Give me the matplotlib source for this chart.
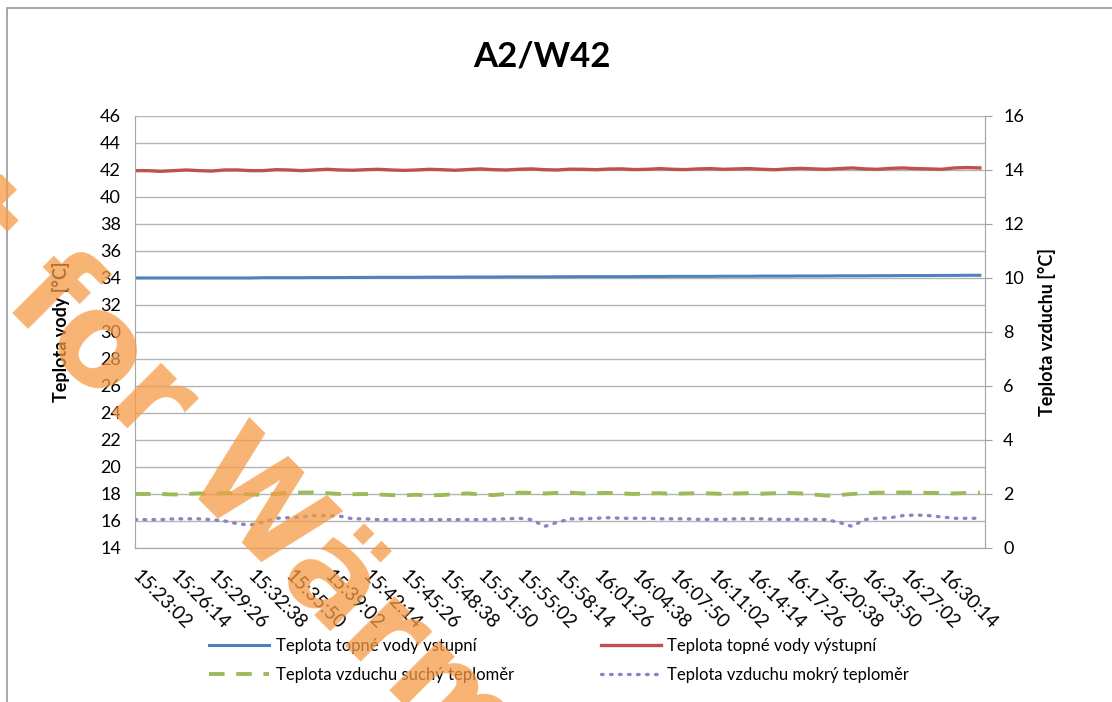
import numpy as np
import matplotlib.pyplot as plt
from matplotlib.patches import Rectangle

plt.rcParams['font.family'] = ['Lato', 'DejaVu Sans']

# tick labels on the time axis (every 3rd sample, 192 s apart)
time_labels = ['15:23:02', '15:26:14', '15:29:26', '15:32:38', '15:35:50', '15:39:02',
               '15:42:14', '15:45:26', '15:48:38', '15:51:50', '15:55:02', '15:58:14',
               '16:01:26', '16:04:38', '16:07:50', '16:11:02', '16:14:14', '16:17:26',
               '16:20:38', '16:23:50', '16:27:02', '16:30:14']

# water temperatures [°C], left axis
voda_vstup = [34.0, 34.0, 34.0, 34.0, 34.0, 34.0, 34.0, 34.0, 34.0, 34.0,
              34.02, 34.02, 34.02, 34.02, 34.03, 34.03, 34.03, 34.04, 34.04, 34.05,
              34.05, 34.05, 34.05, 34.06, 34.06, 34.06, 34.07, 34.07, 34.07, 34.08,
              34.08, 34.08, 34.08, 34.09, 34.09, 34.1, 34.1, 34.1, 34.1, 34.1,
              34.11, 34.11, 34.12, 34.12, 34.12, 34.12, 34.13, 34.13, 34.13, 34.14,
              34.14, 34.14, 34.15, 34.15, 34.15, 34.16, 34.16, 34.16, 34.17, 34.17,
              34.18, 34.18, 34.18, 34.19, 34.19, 34.2, 34.2]
voda_vystup = [41.95, 41.95, 41.9, 41.95, 42.0, 41.95, 41.92, 42.0, 42.0, 41.95,
               41.95, 42.02, 42.0, 41.95, 42.0, 42.05, 42.0, 41.98, 42.02, 42.05,
               42.0, 41.97, 42.0, 42.05, 42.02, 41.98, 42.03, 42.08, 42.02, 42.0,
               42.05, 42.08, 42.02, 42.0, 42.06, 42.05, 42.02, 42.07, 42.08, 42.03,
               42.05, 42.1, 42.05, 42.03, 42.08, 42.1, 42.05, 42.08, 42.1, 42.05,
               42.02, 42.08, 42.12, 42.08, 42.05, 42.1, 42.15, 42.08, 42.05, 42.12,
               42.15, 42.1, 42.08, 42.05, 42.15, 42.18, 42.15]

# air temperatures [°C], right axis
vzduch_suchy = [2.0, 2.0, 2.0, 1.98, 2.0, 2.02, 2.0, 2.03, 2.02, 1.98,
                1.97, 2.0, 2.05, 2.05, 2.06, 2.03, 2.0, 1.99, 2.0, 1.98,
                1.96, 1.95, 1.97, 1.95, 1.96, 2.0, 2.02, 1.98, 1.96, 2.0,
                2.05, 2.04, 2.02, 2.04, 2.05, 2.02, 2.03, 2.04, 2.02, 2.0,
                2.02, 2.03, 2.0, 2.02, 2.03, 2.02, 2.0, 2.02, 2.03, 2.01,
                2.03, 2.04, 2.02, 1.98, 1.94, 1.96, 2.0, 2.03, 2.05, 2.04,
                2.06, 2.05, 2.04, 2.03, 2.02, 2.04, 2.05]
vzduch_mokry = [1.05, 1.05, 1.05, 1.08, 1.08, 1.08, 1.05, 1.0, 0.9, 0.85,
                0.95, 1.1, 1.12, 1.15, 1.2, 1.2, 1.18, 1.08, 1.08, 1.05,
                1.05, 1.05, 1.05, 1.05, 1.05, 1.05, 1.05, 1.05, 1.06, 1.08,
                1.1, 1.05, 0.8, 0.95, 1.08, 1.08, 1.1, 1.12, 1.1, 1.1,
                1.1, 1.08, 1.08, 1.08, 1.06, 1.06, 1.06, 1.08, 1.08, 1.08,
                1.06, 1.06, 1.06, 1.06, 1.05, 0.95, 0.8, 1.05, 1.1, 1.12,
                1.2, 1.22, 1.2, 1.15, 1.1, 1.1, 1.1]

x = np.arange(len(voda_vstup))

fig = plt.figure(figsize=(11.12, 7.02), dpi=100)
ax = fig.add_axes([0.1214, 0.2194, 0.7644, 0.6154])
ax2 = ax.twinx()

l1, = ax.plot(x, voda_vstup, color='#4F81BD', lw=2.2)
l2, = ax.plot(x, voda_vystup, color='#C0504D', lw=2.4)
l3, = ax2.plot(x, vzduch_suchy, color='#9BBB59', lw=2.8, dashes=(4, 3))
l4, = ax2.plot(x, vzduch_mokry, color='#8C82C4', lw=2.4, dashes=(0.5, 2.2),
               dash_capstyle='round')

ax.set_xlim(0, 66.4)
ax.set_ylim(14, 46)
ax.set_yticks(range(14, 47, 2))
ax2.set_ylim(0, 16)
ax2.set_yticks(range(0, 17, 2))
ax.grid(axis='y', color='#b4b4b4', lw=1)
ax.set_axisbelow(True)

ax.set_xticks(x[::3][:len(time_labels)])
ax.set_xticklabels(time_labels, rotation=-45, ha='left', va='center',
                   rotation_mode='anchor', fontsize=13.5)
ax.tick_params(axis='x', length=0, pad=18)
ax.tick_params(axis='y', length=0, labelsize=13, pad=10)
ax2.tick_params(axis='y', length=5, color='#a0a0a0', labelsize=13, pad=8)

for a in (ax, ax2):
    a.spines['top'].set_visible(False)
    for s in ('left', 'right', 'bottom'):
        a.spines[s].set_color('#a8a8a8')

ax.set_ylabel('Teplota vody [°C]', fontsize=13, fontweight='bold', labelpad=22)
ax2.set_ylabel('Teplota vzduchu [°C]', fontsize=13, fontweight='bold', labelpad=10)
fig.text(0.487, 0.92, 'A2/W42', ha='center', va='center', fontsize=25, fontweight='bold')

fig.legend([l1, l3, l2, l4],
           ['Teplota topné vody vstupní', 'Teplota vzduchu suchý teploměr',
            'Teplota topné vody výstupní', 'Teplota vzduchu mokrý teploměr'],
           ncol=2, loc='center', bbox_to_anchor=(0.503, 0.059), frameon=False,
           fontsize=12, handlelength=3.6, handletextpad=0.4,
           labelspacing=0.8, columnspacing=5.2, borderpad=0)

fig.patches.append(Rectangle((0.006, -0.01), 1.0, 0.998, transform=fig.transFigure,
                             fill=False, edgecolor='#999999', lw=1.2))

# watermark over the chart
fig.text(-0.065, 0.675, 't for Wärm', rotation=-45, rotation_mode='anchor',
         ha='left', va='baseline', fontsize=92, fontweight='bold',
         family='DejaVu Sans', color='#F59A45', alpha=0.75, zorder=10)

fig.savefig('out.png', dpi=100)
